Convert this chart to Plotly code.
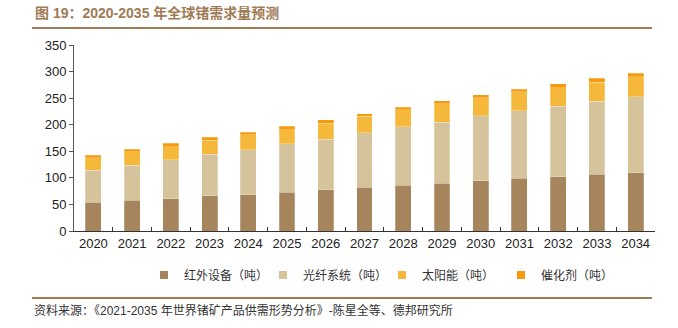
import plotly.graph_objects as go

years = [str(y) for y in range(2020, 2035)]
infrared = [54, 58, 61, 66, 68, 73, 78, 82, 86, 90, 95, 99, 102, 107, 110]
fiber = [60, 66, 73, 78, 85, 91, 95, 103, 110, 115, 122, 127, 133, 137, 143]
solar = [24, 25, 25, 27, 28, 27, 30, 31, 32, 34, 34, 36, 35, 36, 37]
catalyst = [5, 5, 6, 5, 5, 6, 6, 5, 5, 6, 5, 5, 7, 7, 7]

names = ["红外设备（吨）", "光纤系统（吨）", "太阳能（吨）", "催化剂（吨）"]
colors = ["#a6845c", "#d5c39b", "#f5b83a", "#f59a0a"]
series = [infrared, fiber, solar, catalyst]

W, H = 678, 328
L, R, T, B = 74, 655, 45, 231

def px(x):
    return (x - L) / (R - L)

def py(y):
    return (B - y) / (B - T)

fig = go.Figure()
for n, c, s in zip(names, colors, series):
    fig.add_trace(go.Bar(
        x=years, y=s, name=n, showlegend=False,
        marker=dict(color=c, line=dict(color="rgba(255,255,255,0.5)", width=0.5)),
    ))
# legend entries with small square swatches
for n, c in zip(names, colors):
    fig.add_trace(go.Scatter(
        x=[None], y=[None], name=n, mode="markers",
        marker=dict(symbol="square", size=8, color=c),
    ))

font_cjk = "Noto Sans CJK SC"
fig.update_layout(
    width=W, height=H,
    margin=dict(l=L, r=W - R, t=T, b=H - B),
    barmode="stack",
    bargap=0.59,
    plot_bgcolor="white",
    paper_bgcolor="white",
    font=dict(family="Liberation Sans, Arial, " + font_cjk, size=13, color="#222"),
    showlegend=True,
    legend=dict(
        orientation="h", x=px(144), xanchor="left", y=py(275), yanchor="middle",
        font=dict(family=font_cjk, size=12, color="#333"),
        itemwidth=30, traceorder="normal", tracegroupgap=0,
        entrywidth=74, entrywidthmode="pixels", bgcolor="rgba(0,0,0,0)",
    ),
    xaxis=dict(
        type="category", showline=True, linecolor="#333", linewidth=1,
        ticks="inside", tickson="boundaries", ticklen=4, tickcolor="#333",
        tickfont=dict(size=13, color="#222"), showgrid=False,
    ),
    yaxis=dict(
        range=[0, 350], dtick=50, showline=True, linecolor="#555", linewidth=1,
        ticks="outside", ticklen=4, tickcolor="#555", showgrid=False, zeroline=False,
        tickfont=dict(size=13, color="#222"),
    ),
    annotations=[
        dict(text="<b>图 19：2020-2035 年全球锗需求量预测</b>", xref="paper", yref="paper",
             x=px(33), y=py(13), xanchor="left", yanchor="middle", showarrow=False,
             font=dict(family="Liberation Sans, " + font_cjk, size=14, color="#a07b55")),
        dict(text="资料来源：《2021-2035 年世界锗矿产品供需形势分析》-陈星全等、德邦研究所",
             xref="paper", yref="paper", x=px(32), y=py(310), xanchor="left", yanchor="middle",
             showarrow=False,
             font=dict(family="Liberation Sans, " + font_cjk, size=12, color="#333")),
    ],
    shapes=[
        dict(type="line", xref="paper", yref="paper", layer="above",
             x0=px(32), x1=px(652), y0=py(28), y1=py(28),
             line=dict(color="#9c7b57", width=2)),
        dict(type="line", xref="paper", yref="paper", layer="above",
             x0=px(32), x1=px(652), y0=py(298), y1=py(298),
             line=dict(color="#9c7b57", width=2)),
    ],
)

fig.write_html("out.html")
